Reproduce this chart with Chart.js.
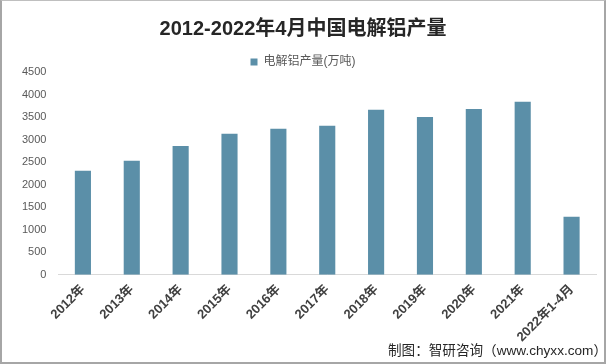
<!DOCTYPE html>
<html>
<head>
<meta charset="utf-8">
<script src="https://cdn.jsdelivr.net/npm/chart.js@4/dist/chart.umd.min.js"></script>
<style>
  html, body { margin: 0; padding: 0; background: #fff; }
  #wrap { position: relative; width: 606px; height: 364px; box-sizing: border-box; border: 2px solid #a6a6a6; border-top: 1px solid #bfbfbf; overflow: hidden; }
  canvas { display: block; }
  #src { position: absolute; right: -3px; bottom: 3px; font: 13.6px 'Liberation Sans', 'Noto Sans CJK SC', sans-serif; color: #262626; white-space: nowrap; }
</style>
</head>
<body>
<div id="wrap"><canvas id="c" width="602" height="361"></canvas><div id="src"></div></div>
<script>
const categories = ["2012年","2013年","2014年","2015年","2016年","2017年","2018年","2019年","2020年","2021年","2022年1-4月"];
const seriesName = "电解铝产量(万吨)";
const values = [2310, 2530, 2860, 3130, 3240, 3310, 3660, 3500, 3680, 3840, 1290];
const yTicks = [0, 500, 1000, 1500, 2000, 2500, 3000, 3500, 4000, 4500];
const titleText = "2012-2022年4月中国电解铝产量";
const sourceText = "制图：智研咨询（www.chyxx.com）";

document.getElementById('src').textContent = sourceText;
const CJK = "'Liberation Sans', 'Noto Sans CJK SC', sans-serif";

const tightLegend = {
  id: 'tightLegend',
  beforeLayout(chart) {
    const lg = chart.legend;
    if (lg && !lg._tight) {
      const f = lg.fit.bind(lg);
      lg.fit = function () { f(); this.height = Math.max(0, this.height - 6); };
      lg._tight = true;
    }
  }
};

new Chart(document.getElementById('c'), {
  type: 'bar',
  data: {
    labels: categories,
    datasets: [{
      label: seriesName,
      data: values,
      backgroundColor: '#5B8FA8',
      borderWidth: 0,
      barPercentage: 0.66,
      categoryPercentage: 0.5
    }]
  },
  plugins: [tightLegend],
  options: {
    responsive: false,
    animation: false,
    layout: { padding: { left: 8, right: 8, top: 6, bottom: 10 } },
    plugins: {
      title: {
        display: true,
        text: titleText,
        color: '#262626',
        font: { family: CJK, size: 20, weight: 'bold' },
        padding: { top: 10, bottom: 12 }
      },
      legend: {
        display: true,
        labels: {
          color: '#595959',
          font: { family: CJK, size: 12 },
          boxWidth: 7,
          boxHeight: 7,
          padding: 3
        }
      },
      tooltip: { enabled: false }
    },
    scales: {
      x: {
        grid: { display: false, drawTicks: false },
        border: { color: '#d9d9d9', width: 1 },
        ticks: {
          color: '#404040',
          font: { family: CJK, size: 13, weight: 'bold' },
          maxRotation: 45,
          minRotation: 45,
          padding: 7
        }
      },
      y: {
        min: 0,
        max: 4500,
        afterBuildTicks: (axis) => { axis.ticks = yTicks.map(v => ({ value: v })); },
        grid: { display: false, drawTicks: false },
        border: { display: false },
        ticks: {
          color: '#595959',
          font: { family: CJK, size: 11 },
          padding: 12,
          callback: (v) => String(v)
        }
      }
    }
  }
});
</script>
</body>
</html>
